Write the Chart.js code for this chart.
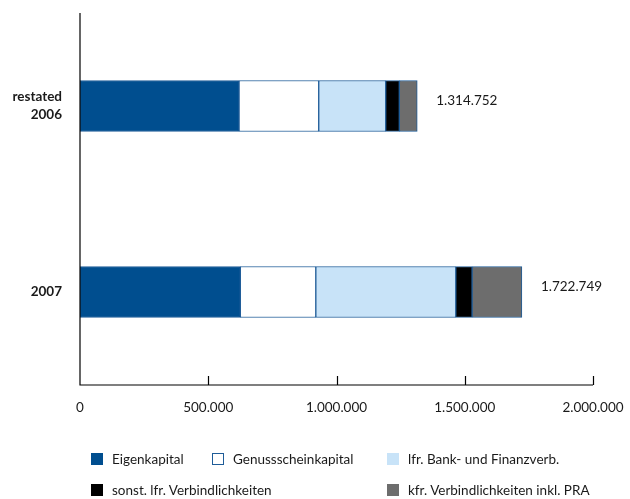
<!DOCTYPE html>
<html>
<head>
<meta charset="utf-8">
<script src="https://cdn.jsdelivr.net/npm/chart.js@4.4.1/dist/chart.umd.min.js"></script>
<style>
    html, body { margin: 0; padding: 0; background: #fff; }
    #wrap { position: relative; width: 630px; height: 499px; }
    #bilanz { position: absolute; left: 0; top: 0; }
    .leg { position: absolute; font: 13.5px Lato, sans-serif; color: #1a1a1a; white-space: nowrap; line-height: 14px; }
    .leg span.box { position: absolute; width: 12px; height: 12px; box-sizing: border-box; left: 0; top: 1px; }
    .leg span.txt { position: absolute; left: 21px; top: 0; }
</style>
</head>
<body>
<div id="wrap">
    <canvas id="bilanz" width="630" height="499"></canvas>
</div>
<script>
// Kategorien (Jahre) und Bilanzpositionen in TEUR
const kategorien = [['restated', '2006'], '2007'];
const eigenkapital = [620000, 625000];
const genussschein = [310700, 294300];
const lfrBank = [261200, 545800];
const sonstLfr = [53000, 63500];
const kfrVerb = [69852, 194149];
const summen = [1314752, 1722749];
const xTicks = [0, 500000, 1000000, 1500000, 2000000];

const serien = [
    { label: 'Eigenkapital', data: eigenkapital, farbe: '#004e8f' },
    { label: 'Genussscheinkapital', data: genussschein, farbe: '#ffffff' },
    { label: 'lfr. Bank- und Finanzverb.', data: lfrBank, farbe: '#c8e3f8' },
    { label: 'sonst. lfr. Verbindlichkeiten', data: sonstLfr, farbe: '#000000' },
    { label: 'kfr. Verbindlichkeiten inkl. PRA', data: kfrVerb, farbe: '#6d6d6d' }
];

// Legendenpositionen (links oben) je Serie
const legendePos = [[91, 452], [212, 452], [387, 452], [91, 483], [387, 483]];

const schrift = 'Lato, sans-serif';

function formatDE(n) {
    return String(n).replace(/\B(?=(\d{3})+(?!\d))/g, '.');
}

// Achsenstriche nach innen und Summenbeschriftung rechts der Balken
const zusatzPlugin = {
    id: 'zusatz',
    afterDatasetsDraw(chart) {
        const ctx = chart.ctx;
        const xs = chart.scales.x;
        const ys = chart.scales.y;
        const area = chart.chartArea;
        ctx.save();
        ctx.strokeStyle = '#000';
        ctx.lineWidth = 1.2;
        ctx.beginPath();
        ctx.moveTo(area.left, area.top);
        ctx.lineTo(area.left, area.bottom);
        ctx.lineTo(area.right, area.bottom);
        xTicks.forEach(v => {
            if (v === 0) return;
            const px = Math.round(xs.getPixelForValue(v)) + 0.5;
            ctx.moveTo(px, area.bottom);
            ctx.lineTo(px, area.bottom - 9);
        });
        ctx.stroke();

        ctx.fillStyle = '#1a1a1a';
        ctx.font = '13.5px ' + schrift;
        ctx.textAlign = 'left';
        ctx.textBaseline = 'middle';
        summen.forEach((s, i) => {
            const px = xs.getPixelForValue(s) + 19;
            const py = ys.getPixelForValue(i) - 5;
            ctx.fillText(formatDE(s), px, py);
        });
        ctx.restore();
    }
};

const ctx = document.getElementById('bilanz').getContext('2d');
new Chart(ctx, {
    type: 'bar',
    data: {
        labels: kategorien,
        datasets: serien.map(s => ({
            label: s.label,
            data: s.data,
            backgroundColor: s.farbe,
            borderColor: '#1f5c98',
            borderWidth: 1,
            borderSkipped: false,
            barThickness: 51
        }))
    },
    options: {
        indexAxis: 'y',
        responsive: false,
        animation: false,
        layout: { padding: { top: 13, right: 37, bottom: 84, left: 0 } },
        plugins: {
            legend: { display: false },
            tooltip: { enabled: false }
        },
        scales: {
            x: {
                stacked: true,
                min: 0,
                max: 2000000,
                afterBuildTicks(scale) {
                    scale.ticks = xTicks.map(v => ({ value: v }));
                },
                afterFit(scale) {
                    scale.height = 30;
                    scale.paddingLeft = 0;
                    scale.paddingRight = 0;
                },
                border: { display: false },
                grid: { display: false, drawTicks: false },
                ticks: {
                    color: '#1a1a1a',
                    padding: 15,
                    maxRotation: 0,
                    font: { family: schrift, size: 13.5 },
                    callback: v => formatDE(v)
                }
            },
            y: {
                stacked: true,
                afterFit(scale) {
                    scale.width = 80;
                    scale.paddingTop = 0;
                    scale.paddingBottom = 0;
                },
                border: { display: false },
                grid: { display: false, drawTicks: false },
                ticks: {
                    color: '#1a1a1a',
                    padding: 18,
                    font: { family: schrift, size: 13.5, weight: 'bold', lineHeight: 1.35 }
                }
            }
        }
    },
    plugins: [zusatzPlugin]
});

// Legende als HTML aus den Serien aufbauen
const wrap = document.getElementById('wrap');
serien.forEach((s, i) => {
    const el = document.createElement('div');
    el.className = 'leg';
    el.style.left = legendePos[i][0] + 'px';
    el.style.top = legendePos[i][1] + 'px';
    const box = document.createElement('span');
    box.className = 'box';
    box.style.background = s.farbe;
    if (s.farbe === '#ffffff') box.style.border = '1.5px solid #1f5c98';
    const txt = document.createElement('span');
    txt.className = 'txt';
    txt.textContent = s.label;
    el.appendChild(box);
    el.appendChild(txt);
    wrap.appendChild(el);
});
</script>
</body>
</html>
